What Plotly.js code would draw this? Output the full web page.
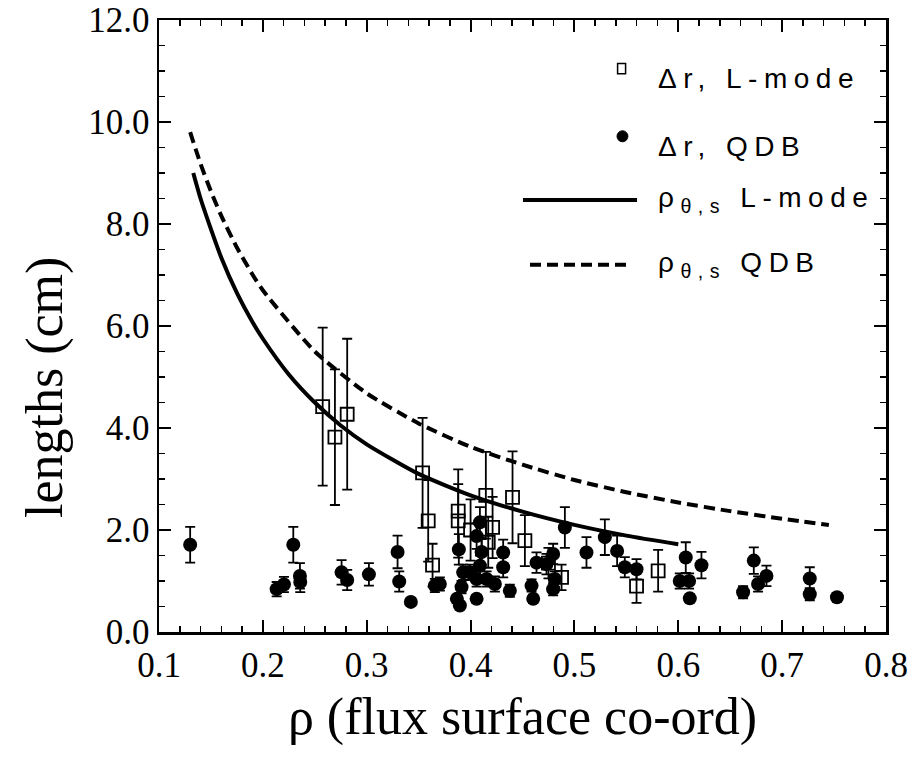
<!DOCTYPE html>
<html>
<head>
<meta charset="utf-8">
<script src="https://cdn.plot.ly/plotly-3.0.1.min.js"></script>
<style>
  html, body { margin: 0; padding: 0; background: #fff; }
  #chart { width: 914px; height: 762px; }
  .annotation-text { letter-spacing: 6.5px; }
  .annotation-text.ytitle-ann { letter-spacing: 0; }
</style>
</head>
<body>
<div id="chart"></div>
<script>
// ---- Data ----
// Δr, L-mode (open squares)
const lmodeRho = [0.2576, 0.2694, 0.2812, 0.3538, 0.3592, 0.3634, 0.3881, 0.3881, 0.4000, 0.4147, 0.4170, 0.4212, 0.4404, 0.4523, 0.4750, 0.4876, 0.5598, 0.5806];
const lmodeLen = [4.42, 3.82, 4.27, 3.12, 2.18, 1.31, 2.37, 2.18, 2.00, 2.68, 1.76, 2.05, 2.64, 1.79, 1.35, 1.07, 0.90, 1.20];
const lmodeErr = [1.55, 1.33, 1.48, 1.08, 0.80, 0.42, 0.82, 0.72, 0.60, 0.85, 0.50, 0.60, 0.90, 0.50, 0.30, 0.25, 0.33, 0.41];

// Δr, QDB (filled circles)
const qdbRho = [0.130, 0.2133, 0.2203, 0.2293, 0.2357, 0.2360, 0.2758, 0.2812, 0.3021, 0.3297, 0.3313, 0.3425,
                0.3656, 0.3704, 0.3887, 0.3868, 0.3897, 0.3929, 0.3913, 0.4090, 0.4058, 0.4106, 0.4090, 0.4058,
                0.3993, 0.4154, 0.4058, 0.4234, 0.4314, 0.4314, 0.4378, 0.4587, 0.4603, 0.4635, 0.4731, 0.4795,
                0.4811, 0.4795, 0.4908, 0.5116, 0.5293, 0.5411, 0.5485, 0.5598, 0.6072, 0.6014, 0.6104, 0.6111,
                0.6223, 0.6624, 0.6727, 0.6768, 0.6849, 0.7266, 0.7266, 0.7528];
const qdbLen = [1.71, 0.84, 0.93, 1.71, 1.10, 0.98, 1.17, 1.02, 1.13, 1.57, 0.99, 0.59,
                0.91, 0.94, 1.62, 0.65, 0.52, 1.17, 0.88, 2.15, 1.88, 1.57, 1.30, 1.04,
                1.17, 1.04, 0.65, 0.94, 1.56, 1.27, 0.81, 0.91, 0.65, 1.36, 1.33, 1.53,
                1.04, 0.84, 2.05, 1.56, 1.86, 1.59, 1.27, 1.23, 1.46, 1.00, 1.00, 0.66,
                1.31, 0.78, 1.40, 0.94, 1.10, 1.05, 0.74, 0.68];
const qdbErr = [0.35, 0.14, 0.15, 0.35, 0.25, 0.20, 0.24, 0.20, 0.22, 0.32, 0.20, 0.05,
                0.13, 0.13, 0.30, 0.08, 0.06, 0.15, 0.12, 0.30, 0.25, 0.25, 0.20, 0.15,
                0.15, 0.15, 0.08, 0.15, 0.25, 0.20, 0.12, 0.12, 0.08, 0.20, 0.20, 0.20,
                0.15, 0.12, 0.40, 0.30, 0.35, 0.30, 0.20, 0.20, 0.30, 0.15, 0.15, 0.08,
                0.26, 0.12, 0.26, 0.15, 0.20, 0.22, 0.12, 0.08];

// ρθ,s L-mode (solid curve)
const rhoLmodeX = [0.133, 0.14, 0.15, 0.16, 0.175, 0.19, 0.2, 0.225, 0.25, 0.275, 0.3, 0.35, 0.4, 0.45, 0.5, 0.55, 0.6];
const rhoLmodeY = [9.0, 8.5, 7.9, 7.34, 6.65, 6.08, 5.75, 5.05, 4.5, 4.05, 3.68, 3.1, 2.68, 2.36, 2.1, 1.89, 1.72];

// ρθ,s QDB (dashed curve)
const rhoQdbX = [0.13, 0.14, 0.15, 0.16, 0.175, 0.19, 0.2, 0.25, 0.3, 0.35, 0.4, 0.45, 0.5, 0.55, 0.6, 0.65, 0.7, 0.745];
const rhoQdbY = [9.8, 9.18, 8.64, 8.16, 7.54, 7.01, 6.70, 5.50, 4.68, 4.09, 3.63, 3.28, 2.98, 2.74, 2.54, 2.37, 2.22, 2.10];

// Tick labels
const xTickVals = [0.1, 0.2, 0.3, 0.4, 0.5, 0.6, 0.7, 0.8];
const xTickText = ['0.1', '0.2', '0.3', '0.4', '0.5', '0.6', '0.7', '0.8'];
const yTickVals = [0, 2, 4, 6, 8, 10, 12];
const yTickText = ['0.0', '2.0', '4.0', '6.0', '8.0', '10.0', '12.0'];

// Legend labels and axis titles
const legendLabels = ['Δr, L-mode', 'Δr, QDB', 'ρ<sub>θ,s</sub> L-mode', 'ρ<sub>θ,s</sub> QDB'];
const xTitle = 'ρ (flux surface co-ord)';
const yTitle = 'lengths (cm)';

// ---- Traces ----
const traces = [
  {
    x: lmodeRho, y: lmodeLen, type: 'scatter', mode: 'markers', name: legendLabels[0],
    marker: { symbol: 'square-open', size: 13, color: '#000', line: { width: 1.8, color: '#000' } },
    error_y: { type: 'data', array: lmodeErr, visible: true, color: '#000', thickness: 1.8, width: 5 }
  },
  {
    x: qdbRho, y: qdbLen, type: 'scatter', mode: 'markers', name: legendLabels[1],
    marker: { symbol: 'circle', size: 14, color: '#000' },
    error_y: { type: 'data', array: qdbErr, visible: true, color: '#000', thickness: 1.8, width: 5 }
  },
  {
    x: rhoLmodeX, y: rhoLmodeY, type: 'scatter', mode: 'lines', name: legendLabels[2],
    line: { color: '#000', width: 4, shape: 'spline', smoothing: 0.6 }
  },
  {
    x: rhoQdbX, y: rhoQdbY, type: 'scatter', mode: 'lines', name: legendLabels[3],
    line: { color: '#000', width: 4, dash: '11px,6px', shape: 'spline', smoothing: 0.6 }
  }
];

const serif = 'Liberation Serif, Times New Roman, serif';
const tickFont = { family: serif, size: 35, color: '#000' };
const titleFont = { family: serif, size: 52, color: '#000' };

// ---- Legend built from annotations / shapes (paper coordinates) ----
const legRowY = [0.905, 0.793, 0.706, 0.600];
const legTextX = 0.683;
const annotations = legendLabels.map((t, i) => ({
  xref: 'paper', yref: 'paper', x: legTextX, y: legRowY[i],
  xanchor: 'left', yanchor: 'middle', showarrow: false, text: t,
  font: { family: 'Liberation Sans, Arial, sans-serif', size: 28, color: '#000' }
}));
// y-axis title (placed as in the reference, below the axis middle)
annotations.push({
  xref: 'paper', yref: 'paper', x: -0.157, y: 0.40,
  xanchor: 'center', yanchor: 'middle', showarrow: false, textangle: -90,
  text: yTitle, font: titleFont, name: 'ytitle'
});

const shapes = [
  // square symbol
  { type: 'rect', xref: 'paper', yref: 'paper', x0: 0.6308, x1: 0.6418, y0: 0.912, y1: 0.929,
    line: { color: '#000', width: 1.5 }, fillcolor: 'rgba(0,0,0,0)' },
  // circle symbol
  { type: 'circle', xref: 'paper', yref: 'paper', x0: 0.6300, x1: 0.6450, y0: 0.801, y1: 0.819,
    line: { color: '#000', width: 1 }, fillcolor: '#000' },
  // solid line
  { type: 'line', xref: 'paper', yref: 'paper', x0: 0.5007, x1: 0.6575, y0: 0.706, y1: 0.706,
    line: { color: '#000', width: 4 } },
  // dashed line
  { type: 'line', xref: 'paper', yref: 'paper', x0: 0.5103, x1: 0.6451, y0: 0.600, y1: 0.600,
    line: { color: '#000', width: 4, dash: '11px,6px' } }
];

const layout = {
  width: 914, height: 762,
  margin: { l: 159, r: 28, t: 20, b: 130 },
  paper_bgcolor: '#fff', plot_bgcolor: '#fff',
  showlegend: false,
  xaxis: {
    range: [0.1, 0.8], tickvals: xTickVals, ticktext: xTickText,
    ticks: 'inside', ticklen: 12, tickwidth: 2, tickcolor: '#000',
    minor: { dtick: 0.02, tick0: 0.1, ticks: 'inside', ticklen: 6, tickwidth: 1.5, tickcolor: '#000', showgrid: false },
    showline: true, linecolor: '#000', linewidth: 2.5, mirror: 'allticks',
    showgrid: false, zeroline: false, tickfont: tickFont,
    title: { text: xTitle, font: titleFont, standoff: 14 }
  },
  yaxis: {
    range: [0, 12], tickvals: yTickVals, ticktext: yTickText,
    ticks: 'inside', ticklen: 12, tickwidth: 2, tickcolor: '#000',
    minor: { dtick: 0.5, tick0: 0, ticks: 'inside', ticklen: 6, tickwidth: 1.5, tickcolor: '#000', showgrid: false },
    showline: true, linecolor: '#000', linewidth: 2.5, mirror: 'allticks',
    showgrid: false, zeroline: false, tickfont: tickFont
  },
  annotations: annotations,
  shapes: shapes
};

Plotly.newPlot('chart', traces, layout, { displayModeBar: false, staticPlot: true }).then(() => {
  // no letter spacing on the rotated y-axis title
  document.querySelectorAll('.annotation-text').forEach(el => {
    if (el.textContent === yTitle) el.style.letterSpacing = '0px';
  });
});
</script>
</body>
</html>
